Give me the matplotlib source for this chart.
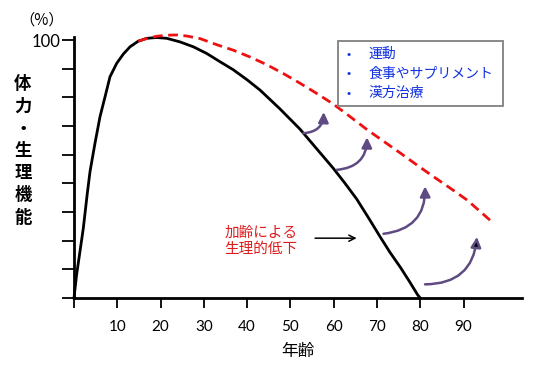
import numpy as np
import matplotlib
matplotlib.use("Agg")
import matplotlib.pyplot as plt
from matplotlib.patches import Rectangle

plt.rcParams['font.family'] = ['Noto Sans CJK JP', 'DejaVu Sans']

# black curve: physical function by age
age_decline = [0, 0.6, 2.15, 3.07, 3.7, 4.85, 6.01, 7.17, 8.32, 9.87, 11.4, 12.94, 14.86,
               16.81, 19.12, 21.43, 24.5, 27.58, 30.68, 33.75, 36.8, 40.0, 43.0, 47.6,
               52.2, 56.1, 59.9, 62.6, 65.3, 68.0, 70.7, 73.0, 75.4, 77.5, 79.4, 80.0]
value_decline = [0, 9.0, 27.0, 40.5, 49.0, 60.0, 70.3, 78.0, 85.8, 91.0, 94.6, 97.4, 99.6,
                 100.7, 101.0, 100.7, 99.3, 97.4, 94.8, 91.6, 88.5, 84.6, 80.6, 73.3,
                 65.5, 57.8, 50.3, 44.5, 38.4, 31.2, 23.8, 17.7, 11.9, 6.4, 1.2, 0]

# red dashed curve: with care
age_care = [14.86, 17.0, 19.1, 21.5, 23.7, 26.0, 29.1, 33.0, 36.8, 40.6, 44.5, 48.4, 52.2,
            56.1, 59.9, 63.8, 67.7, 71.5, 75.4, 79.2, 83.1, 87.0, 90.8, 94.0, 96.9]
value_care = [99.6, 100.7, 101.5, 101.9, 102.0, 101.6, 100.6, 98.2, 96.1, 93.5, 90.5, 87.0, 83.3,
              79.3, 75.2, 70.3, 65.3, 60.8, 56.2, 51.6, 47.0, 42.5, 38.0, 33.3, 29.0]

# curved arrows (start -> tip)
arrow_start = [(53.0, 63.9), (60.7, 49.7), (71.5, 24.9), (81.1, 5.3)]
arrow_tip = [(57.7, 72.1), (67.7, 62.3), (81.1, 43.3), (93.1, 23.7)]
arrow_head = ['#5e4b82', '#5e4b82', '#5e4b82', 'black']

x_ticks = [0, 10, 20, 30, 40, 50, 60, 70, 80, 90]
x_labels = ['', '10', '20', '30', '40', '50', '60', '70', '80', '90']
y_ticks = np.linspace(0, 100, 10)
y_labels = [''] * 9 + ['100']

legend_items = ['運動', '食事やサプリメント', '漢方治療']

fig = plt.figure(figsize=(5.35, 3.72), dpi=100)
ax = fig.add_axes([0.1383, 0.1989, 0.8374, 0.7016])

ax.plot(age_decline, value_decline, color='black', lw=2, clip_on=False)
ax.plot(age_care, value_care, color='#ee1111', lw=2, ls=(0, (3.5, 2)), clip_on=False)

for s, t, hc in zip(arrow_start, arrow_tip, arrow_head):
    ax.annotate('', xy=t, xytext=s,
                arrowprops=dict(arrowstyle='-|>', connectionstyle='arc3,rad=0.45',
                                edgecolor='#5e4b82', facecolor=hc, lw=1.8,
                                mutation_scale=15, shrinkA=0, shrinkB=0))

# straight arrow for the label
ax.annotate('', xy=(65.3, 23.2), xytext=(55.7, 23.2),
            arrowprops=dict(arrowstyle='->', color='black', lw=1.1,
                            mutation_scale=11, shrinkA=0, shrinkB=0))
ax.text(34.7, 22.2, '加齢による\n生理的低下', color='#e01b1b', fontsize=10.5,
        ha='left', va='center', linespacing=1.2)

ax.set_xlim(0, 103.5)
ax.set_ylim(0, 101.2)
ax.set_xticks(x_ticks)
ax.set_xticklabels(x_labels, fontfamily='Lato')
ax.set_yticks(y_ticks)
ax.set_yticklabels(y_labels, fontfamily='Lato')
ax.tick_params(axis='x', direction='out', length=7, width=1.3, pad=9, labelsize=11)
ax.tick_params(axis='y', direction='out', length=9, width=1.3, pad=1, labelsize=12)
for side in ['top', 'right']:
    ax.spines[side].set_visible(False)
for side in ['left', 'bottom']:
    ax.spines[side].set_linewidth(2)

ax.set_xlabel('年齢', fontsize=12, labelpad=6)

fig.text(42 / 535, 1 - 20 / 372, '（%）', fontsize=11, ha='center', va='center')
fig.text(23 / 535, 1 - 151 / 372, '\n'.join('体力・生理機能'), fontsize=12.5,
         fontweight='bold', ha='center', va='center', linespacing=1.3)

# box with treatments
fig.patches.append(Rectangle((0.6323, 0.715), 0.3084, 0.1755, transform=fig.transFigure,
                             fill=False, edgecolor='#808080', lw=1.3))
for i, item in enumerate(legend_items):
    y = 1 - (54 + i * 19.7) / 372
    fig.text(0.651, y, '•', color='#1030e0', fontsize=9, ha='center', va='center')
    fig.text(0.6884, y, item, color='#1030e0', fontsize=10, ha='left', va='center')

fig.savefig('out.png', dpi=100)
